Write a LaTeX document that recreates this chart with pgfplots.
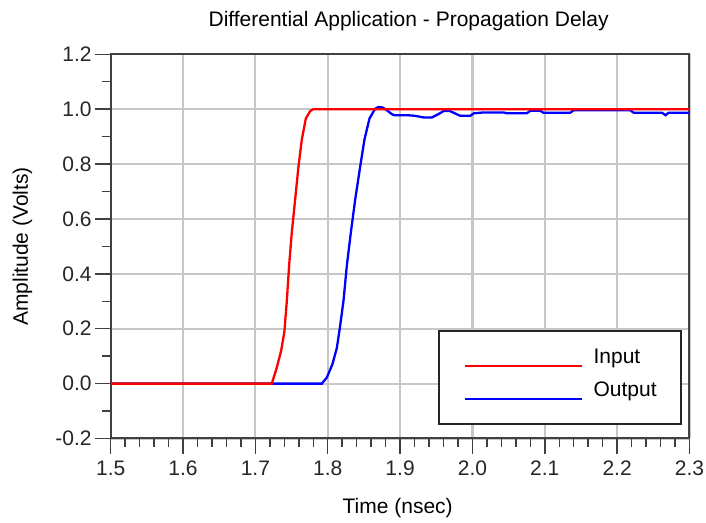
\documentclass[border=0pt]{standalone}
\usepackage{fontspec}
\setmainfont{Liberation Sans}
\usepackage{pgfplots}
\pgfplotsset{compat=1.18}
\begin{document}
\fontsize{10.5}{12}\selectfont
\begin{tikzpicture}
\begin{axis}[
  scale only axis, width=289.4pt, height=192.1pt,
  xmin=1.5, xmax=2.3, ymin=-0.2, ymax=1.2,
  xtick={1.5,1.6,1.7,1.8,1.9,2.0,2.1,2.2,2.3},
  ytick={-0.2,0,0.2,0.4,0.6,0.8,1.0,1.2},
  minor x tick num=4, minor y tick num=1,
  tick pos=left, tick align=outside,
  major tick length=7.75pt, minor tick length=4.25pt,
  tick style={black!75, line width=0.75pt},
  grid=major, major grid style={black!22, line width=1.1pt},
  axis line style={black!75, line width=1pt},
  tick label style={font=\fontsize{10.5}{12}\selectfont, text=black!85},
  /pgf/number format/.cd, fixed, fixed zerofill, precision=1, assume math mode=true,
  /pgfplots/.cd,
  yticklabel style={anchor=east, inner sep=0pt, xshift=-1.6pt},
  xticklabel style={anchor=base, inner sep=0pt, yshift=-11pt},
  title={Differential Application - Propagation Delay},
  title style={at={(axis description cs:0.5,1)}, anchor=base, yshift=7.95pt, xshift=4.25pt, inner sep=0pt, font=\fontsize{10.5}{12}\selectfont},
  xlabel={Time (nsec)},
  xlabel style={at={(axis description cs:0.5,0)}, anchor=base, yshift=-37.75pt, xshift=-1.2pt, inner sep=0pt, font=\fontsize{10.5}{12}\selectfont},
  ylabel={Amplitude (Volts)},
  ylabel style={at={(axis description cs:-0.1429,0.5)}, anchor=base, rotate=0, inner sep=0pt, font=\fontsize{10.5}{12}\selectfont},
  legend image code/.code={\draw[#1, line width=1.3pt] (0pt,-1.24pt) -- (58.5pt,-1.24pt);},
  reverse legend,
  legend style={at={(axis description cs:0.566,0.2824)}, anchor=north west,
    draw=black!85, line width=1pt, fill=white,
    inner xsep=12.35pt, inner ysep=0pt, column sep=5pt, row sep=0pt,
    cells={anchor=base west}, nodes={inner sep=0pt},
    font=\fontsize{10.5}{12}\selectfont},
]
\addplot[blue, line width=1.15pt] coordinates {
(1.5,0) (1.7918,0) (1.7987,0.022) (1.8065,0.071) (1.8126,0.13) (1.8171,0.21)
(1.8217,0.30) (1.8264,0.43) (1.8319,0.55) (1.8379,0.67) (1.8448,0.79)
(1.8508,0.89) (1.8577,0.966) (1.8656,1.002) (1.870,1.008) (1.876,1.006)
(1.8817,0.996) (1.8886,0.982) (1.892,0.978) (1.910,0.978) (1.920,0.976)
(1.9324,0.970) (1.944,0.970) (1.953,0.982) (1.960,0.993) (1.969,0.993)
(1.978,0.982) (1.983,0.976) (1.997,0.976) (2.002,0.985) (2.015,0.988)
(2.043,0.988) (2.048,0.985) (2.075,0.985) (2.080,0.994) (2.094,0.994)
(2.098,0.987) (2.135,0.987) (2.140,0.996) (2.218,0.996) (2.223,0.987)
(2.262,0.987) (2.267,0.978) (2.271,0.987) (2.3,0.987)
};
\addlegendentry[text height=14.5pt, text depth=13.9pt]{Output}
\addplot[red, line width=1.15pt] coordinates {
(1.5,0) (1.7227,0) (1.7296,0.059) (1.7356,0.12) (1.7401,0.19) (1.7434,0.30)
(1.7466,0.43) (1.7503,0.55) (1.7549,0.67) (1.7595,0.79) (1.7642,0.89)
(1.7697,0.966) (1.7757,0.993) (1.780,1.0) (2.3,1.0)
};
\addlegendentry[text height=16.25pt, text depth=2pt]{Input}
\end{axis}
\pgfresetboundingbox
\path[use as bounding box] (-55.35pt,-42.25pt) rectangle (297.65pt,219.25pt);
\end{tikzpicture}
\end{document}
